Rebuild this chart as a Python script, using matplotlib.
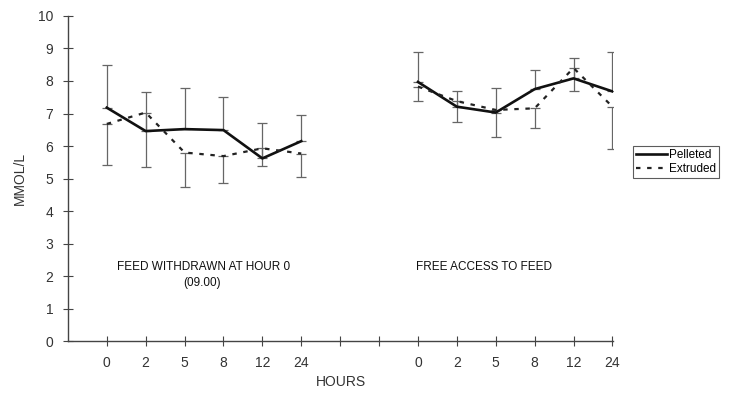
import matplotlib
matplotlib.use("Agg")
import matplotlib.pyplot as plt

plt.rcParams['font.family'] = ['Liberation Sans', 'DejaVu Sans']

hours = ["0", "2", "5", "8", "12", "24"]

# Feed withdrawn at hour 0
withdrawn_pelleted = [7.18, 6.46, 6.52, 6.49, 5.62, 6.15]
withdrawn_pelleted_err = [1.31, 1.21, 1.28, 1.01, 1.10, 0.80]
withdrawn_extruded = [6.68, 7.03, 5.80, 5.69, 5.93, 5.77]
withdrawn_extruded_err = [1.26, 1.68, 1.05, 0.84, 0.54, 0.71]

# Free access to feed
free_pelleted = [7.97, 7.21, 7.03, 7.75, 8.08, 7.68]
free_pelleted_err = [0.91, 0.48, 0.77, 0.59, 0.64, 1.22]
free_extruded = [7.83, 7.38, 7.11, 7.16, 8.40, 7.21]
free_extruded_err = [0.45, 0.65, 0.82, 0.62, 0.70, 1.31]

fig = plt.figure(figsize=(7.3, 3.99), dpi=100)
ax = fig.add_axes([0.093, 0.145, 0.747, 0.815])

n = len(hours)
pos1 = list(range(1, n + 1))
pos2 = list(range(n + 3, 2 * n + 3))

groups = [
    (pos1, withdrawn_pelleted, withdrawn_pelleted_err, withdrawn_extruded, withdrawn_extruded_err),
    (pos2, free_pelleted, free_pelleted_err, free_extruded, free_extruded_err),
]

for i, (pos, pel, pel_err, ext, ext_err) in enumerate(groups):
    ax.errorbar(pos, pel, yerr=[[0] * n, pel_err], fmt='none', ecolor='#666666',
                elinewidth=0.9, capsize=3.5, capthick=0.9, zorder=2)
    ax.errorbar(pos, ext, yerr=[ext_err, [0] * n], fmt='none', ecolor='#666666',
                elinewidth=0.9, capsize=3.5, capthick=0.9, zorder=2)
    ax.plot(pos, pel, color='#111111', lw=1.9, zorder=3,
            label='Pelleted' if i == 0 else None)
    ax.plot(pos, ext, color='#222222', lw=1.6, linestyle=(0, (2, 3)), zorder=3,
            label='Extruded' if i == 0 else None)

ax.set_xlim(0, 2 * n + 2.02)
ax.set_ylim(0, 10)
ax.set_xticks(list(range(1, 2 * n + 3)))
ax.set_xticklabels(hours + ["", ""] + hours)
ax.set_yticks(range(0, 11))

for s in ['top', 'right']:
    ax.spines[s].set_visible(False)
for s in ['left', 'bottom']:
    ax.spines[s].set_color('#444444')
    ax.spines[s].set_linewidth(1.0)

ax.tick_params(axis='both', direction='inout', length=7, width=0.8, color='#444444',
               labelsize=10, labelcolor='#333333')
ax.tick_params(axis='x', pad=7)
ax.tick_params(axis='y', pad=7)

ax.set_ylabel('MMOL/L', fontsize=10, color='#333333', labelpad=8)
ax.set_xlabel('HOURS', fontsize=10, color='#333333', labelpad=4)

ax.text(3.5, 2.28, 'FEED WITHDRAWN AT HOUR 0', ha='center', va='center',
        fontsize=8.5, color='#111111')
ax.text(3.45, 1.8, '(09.00)', ha='center', va='center', fontsize=8.5, color='#111111')
ax.text(10.7, 2.28, 'FREE ACCESS TO FEED', ha='center', va='center',
        fontsize=8.5, color='#111111')

leg = fig.legend(loc='upper left', bbox_to_anchor=(0.867, 0.634), fontsize=8.5,
                 frameon=True, fancybox=False, edgecolor='#333333',
                 handlelength=2.6, handletextpad=0.2, borderpad=0.25,
                 labelspacing=0.15, borderaxespad=0)
leg.get_frame().set_linewidth(0.8)

fig.savefig('out.png', dpi=100)
